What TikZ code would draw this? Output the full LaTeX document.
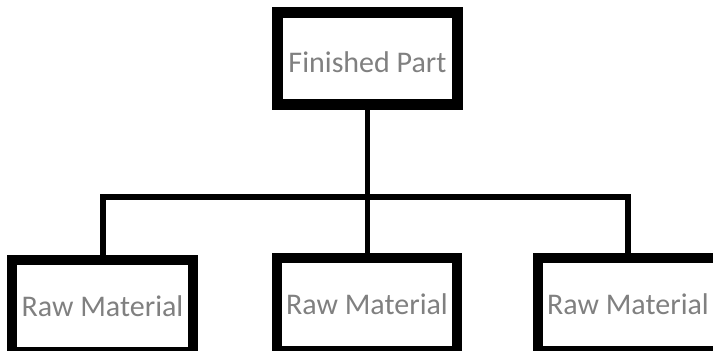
\documentclass[tikz,border=0pt]{standalone}
\usepackage{fontspec}
\setmainfont{Carlito}
\begin{document}
\begin{tikzpicture}[x=1pt,y=-1pt,
  partbox/.style={draw=black, line width=10.5pt, rectangle, inner sep=0pt,
    font=\fontsize{30}{36}\selectfont, text=black!50},
  conn/.style={draw=black, line width=5.8pt, line join=miter}]
\useasboundingbox (0,0) rectangle (713,351);
\node[partbox, minimum width=180pt, minimum height=92pt, text height=27pt, text depth=0pt] (top) at (367.5,58.5) {Finished Part};
\node[partbox, minimum width=181pt, minimum height=92.5pt] (left) at (102.5,306) {Raw Material};
\node[partbox, minimum width=180pt, minimum height=93pt] (mid) at (367,304.5) {Raw Material};
\node[partbox, minimum width=180pt, minimum height=93pt] (right) at (628,304.5) {Raw Material};
\coordinate (j) at (367.5,197);
\coordinate (jl) at (103,197);
\coordinate (jr) at (628,197);
\draw[conn] (top.south) -- (j) -- (j |- mid.north);
\draw[conn] (jl |- left.north) -- (jl) -- (jr) -- (jr |- right.north);
\end{tikzpicture}
\end{document}
